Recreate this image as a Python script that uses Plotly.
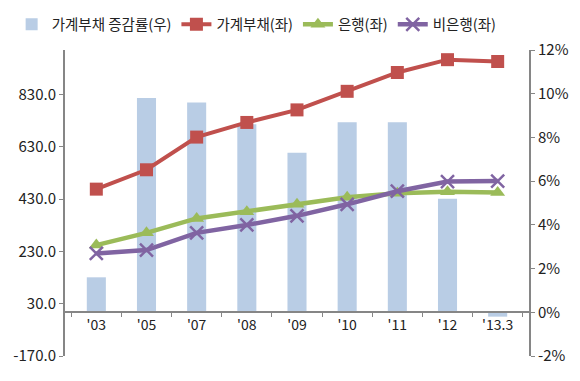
import plotly.graph_objects as go

categories = ["'03", "'05", "'07", "'08", "'09", "'10", "'11", "'12", "'13.3"]
growth_rate = [1.6, 9.8, 9.6, 8.6, 7.3, 8.7, 8.7, 5.2, -0.2]          # %, right axis
household_debt = [468, 542, 667, 723, 771, 842, 914, 963, 956]       # left axis
bank = [254, 301, 356, 382, 410, 437, 452, 458, 455]
nonbank = [222, 235, 301, 331, 366, 410, 460, 497, 499]

left_ticks = [-170, 30, 230, 430, 630, 830]
right_ticks = [-2, 0, 2, 4, 6, 8, 10, 12]

FONT = "Noto Sans CJK KR, Noto Sans, sans-serif"
AXIS_GRAY = "#868686"

fig = go.Figure()
fig.add_trace(go.Bar(
    x=categories, y=growth_rate, name="가계부채 증감률(우)",
    marker=dict(color="#B9CDE5", line=dict(width=0)), yaxis="y",
))
fig.add_trace(go.Scatter(
    x=categories, y=household_debt, name="가계부채(좌)", mode="lines+markers",
    line=dict(color="#C0504D", width=4),
    marker=dict(symbol="square", size=13, color="#C0504D"), yaxis="y2",
))
fig.add_trace(go.Scatter(
    x=categories, y=bank, name="은행(좌)", mode="lines+markers",
    line=dict(color="#9BBB59", width=4.5),
    marker=dict(symbol="triangle-up", size=13, color="#9BBB59"), yaxis="y2",
))
fig.add_trace(go.Scatter(
    x=categories, y=nonbank, name="비은행(좌)", mode="lines+markers",
    line=dict(color="#8064A2", width=4.5),
    marker=dict(symbol="x-thin", size=13, color="#8064A2",
                line=dict(color="#8064A2", width=2.5)), yaxis="y2",
))

fig.update_layout(
    width=580, height=381,
    margin=dict(l=57, r=59, t=42, b=33, autoexpand=False),
    paper_bgcolor="white", plot_bgcolor="white",
    font=dict(family=FONT, size=15, color="#222222"),
    bargap=0.62,
    showlegend=True,
    legend=dict(orientation="h", xref="paper", yref="paper",
                x=-0.115, y=1.136, xanchor="left", yanchor="top",
                font=dict(size=14.5, color="#222222"), itemwidth=30,
                tracegroupgap=0, bgcolor="rgba(0,0,0,0)"),
    xaxis=dict(
        type="category", anchor="free", position=2/14,
        showline=True, linecolor=AXIS_GRAY, linewidth=2,
        ticks="outside", tickson="boundaries", ticklen=4, tickcolor=AXIS_GRAY,
        showgrid=False, zeroline=False,
        tickfont=dict(size=14, color="#222222"),
    ),
    yaxis=dict(
        side="right", range=[-2, 12], tickvals=right_ticks,
        ticktext=[f"{v}%" for v in right_ticks],
        showline=True, linecolor=AXIS_GRAY, linewidth=2,
        ticks="outside", ticklen=4, tickcolor=AXIS_GRAY,
        showgrid=False, zeroline=False, domain=[0, 1],
        tickfont=dict(size=15, color="#222222"),
    ),
    yaxis2=dict(
        side="left", overlaying="y", range=[-170, 1000], tickvals=left_ticks,
        ticktext=[f"{v:.1f}" for v in left_ticks],
        showline=True, linecolor=AXIS_GRAY, linewidth=2,
        ticks="outside", ticklen=4, tickcolor=AXIS_GRAY,
        showgrid=False, zeroline=False,
        tickfont=dict(size=15, color="#222222"),
    ),
)

fig.write_html("out.html")
